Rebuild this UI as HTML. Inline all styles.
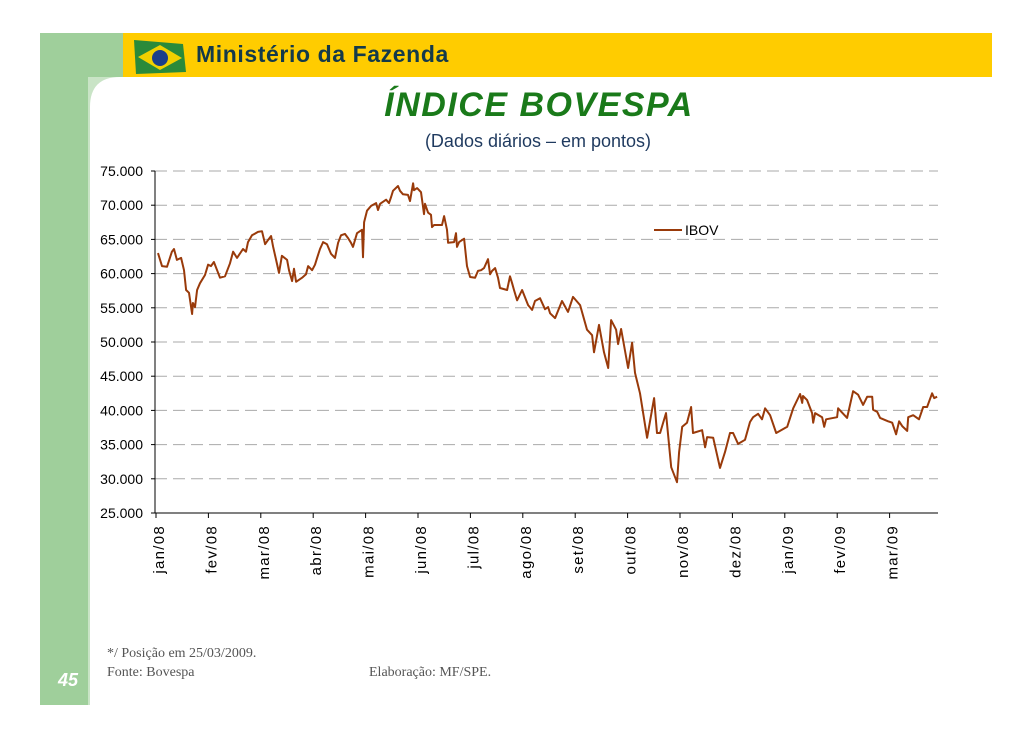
<!DOCTYPE html>
<html><head><meta charset="utf-8"><style>
body{margin:0;width:1030px;height:728px;overflow:hidden;background:#fff;font-family:"Liberation Sans",sans-serif;}
</style></head><body>
<svg width="1030" height="728" viewBox="0 0 1030 728" xmlns="http://www.w3.org/2000/svg">
<rect x="40" y="33" width="83" height="44" fill="#9fcf9b"/>
<rect x="40" y="33" width="48" height="672" fill="#9fcf9b"/>
<path d="M88 77 L120 77 Q90 77 90 107 L90 705 L88 705 Z" fill="#c9e4c6"/>
<rect x="123" y="33" width="869" height="44" fill="#ffcc00"/>
<g><path d="M134 40 L183 44 L186 72 L136 74 Z" fill="#2a8a3a"/><path d="M138 57 L160 45 L182 58 L160 70 Z" fill="#f0d000"/><circle cx="160" cy="58" r="8" fill="#1a3f8a"/></g>
<text x="196" y="62" font-size="23" font-weight="bold" fill="#143a4a" letter-spacing="0.6">Ministério da Fazenda</text>
<text x="539" y="116" text-anchor="middle" font-size="34" font-weight="bold" font-style="italic" fill="#1a7a1a" letter-spacing="1.5">ÍNDICE BOVESPA</text>
<text x="538" y="147" text-anchor="middle" font-size="18" fill="#1f3a5f">(Dados diários – em pontos)</text>
<text x="58" y="686" font-size="18" font-weight="bold" font-style="italic" fill="#fff">45</text>
<g font-family="Liberation Serif,serif" font-size="14" fill="#555">
<text x="107" y="657">*/ Posição em 25/03/2009.</text>
<text x="107" y="676">Fonte: Bovespa</text>
<text x="369" y="676">Elaboração: MF/SPE.</text>
</g>
<g id="chart"></g>
<line x1="654" y1="230" x2="682" y2="230" stroke="#993a0a" stroke-width="2"/>
<text x="685" y="235" font-size="14" fill="#000">IBOV</text>
</svg>
<script>
const yTicks=[75000,70000,65000,60000,55000,50000,45000,40000,35000,30000,25000];
const months=["jan/08","fev/08","mar/08","abr/08","mai/08","jun/08","jul/08","ago/08","set/08","out/08","nov/08","dez/08","jan/09","fev/09","mar/09"];
const days=[0,2.3,5.2,8.1,9.3,11,13.4,15.1,16.3,18,19.8,20.3,21.5,22.7,24.4,27.3,29.1,30.8,32.5,36,38.9,41.8,43.6,45.9,49.4,51.1,52.3,54.6,58.1,60.4,62.2,63.9,65.7,66.8,68.6,70.3,72,75,76.1,77.9,79,80.2,83.7,86,87.2,89.5,91.2,92.4,94.1,95.9,98.2,100.5,102.8,104.6,106.3,108.6,110.4,112.1,113.3,115.6,118.5,119.1,119.7,121.4,123.8,126.7,127.8,129,132.5,134.2,135.4,136.5,139.4,140.6,142.3,145.2,146.4,148.2,148.7,150.5,152.8,154,154.5,155.1,156.9,158.6,159.2,160.4,165,166.2,167.9,168.5,172,173.1,173.7,174.9,177.8,179.5,181.3,184.2,185.9,187.7,189.4,191.7,192.9,194.1,195.8,197.5,198.7,202.8,204.5,205.7,206.8,208.6,211.5,215,217.3,219,221.9,224.8,226.6,227.8,230.7,234.7,238.2,241.1,245.2,249.2,252.2,253.3,256.2,259.1,261.5,263.2,266.1,267.3,269,273.1,275.4,277.1,280,284.1,288.2,289.9,291.7,295.1,298.1,301.5,302.7,304.5,307.3,309.7,310.8,316.1,317.8,319,322.5,326.5,329.4,332.3,334.1,337,341,343.9,345.7,348.6,350.9,352.7,355.6,359.1,365.5,369,373,374.2,374.7,377.1,380,380.6,381.7,385.8,387,388.1,394.5,395.1,400.3,403.8,406.7,409.6,412,414.9,415.4,417.8,419.5,424.1,426.5,428.8,430.5,432.3,435.2,435.8,438.7,442.1,444.5,446.8,449.7,450.9,452.6];
const ibov=[63.0,61.1,61.0,63.2,63.6,62.0,62.3,60.5,57.6,57.2,54.1,55.7,55.1,57.6,58.6,59.8,61.3,61.1,61.7,59.4,59.6,61.5,63.2,62.3,63.6,63.2,64.6,65.6,66.1,66.2,64.3,64.9,65.5,64.0,62.0,60.1,62.6,62.0,60.5,58.9,60.7,58.8,59.4,59.9,61.1,60.5,61.3,62.3,63.6,64.6,64.3,62.9,62.3,64.5,65.6,65.8,65.2,64.5,63.9,65.9,66.4,62.4,67.5,69.2,69.9,70.3,69.3,70.2,70.8,70.3,71.2,72.1,72.8,72.1,71.6,71.5,70.6,73.2,72.2,72.5,71.9,69.7,68.7,70.2,68.9,68.6,66.8,67.1,67.1,68.4,66.4,64.5,64.6,65.9,63.9,64.6,65.1,61.1,59.5,59.4,60.4,60.5,60.8,62.1,59.9,60.4,60.8,59.4,57.9,57.6,59.6,58.6,57.6,56.1,57.6,55.4,54.7,56.0,56.4,54.8,55.1,54.2,53.5,56.0,54.4,56.6,55.4,51.8,51.0,48.5,52.5,48.5,46.2,53.2,51.8,49.7,51.9,46.2,49.9,45.5,42.5,36.0,41.8,36.7,36.7,39.6,31.7,29.5,33.9,37.6,38.2,40.5,36.7,37.1,34.6,36.1,36.0,31.6,33.9,36.7,36.7,35.1,35.7,38.3,39.0,39.5,38.7,40.3,39.3,36.7,37.6,40.3,42.4,41.1,42.1,41.5,39.6,38.2,39.6,39.0,37.6,38.7,39.0,40.3,38.9,42.8,42.3,40.8,42.0,42.0,40.1,39.8,38.9,38.4,38.2,36.5,38.4,37.7,37.0,39.0,39.3,38.7,40.5,40.5,42.5,41.8,42.0];
const NS="http://www.w3.org/2000/svg",g=document.getElementById('chart');
const L=155,R=938,T=171,B=513;
const y=v=>T+(75000-v)/50000*(B-T);
const x=d=>158+d/30.44*52.4;
function mk(t,a){const e=document.createElementNS(NS,t);for(const k in a)e.setAttribute(k,a[k]);g.appendChild(e);return e;}
yTicks.forEach(v=>{
 if(v>25000){const l=mk('line',{x1:L,x2:R,y1:y(v),y2:y(v),stroke:'#aaa','stroke-dasharray':'12,6'});
 
 }
 const tk=mk('line',{x1:L-4,x2:L,y1:y(v),y2:y(v),stroke:'#000'});
 
 
 const t=mk('text',{x:143,y:y(v)+5,'text-anchor':'end','font-size':14,fill:'#000'});
 t.textContent=v.toLocaleString('de-DE');
 
 
});
const ax=mk('path',{d:`M${L} ${T} L${L} ${B} L${R} ${B}`,stroke:'#000',fill:'none'});


months.forEach((m,i)=>{
 const tx=156+i*52.4;
 const tk=mk('line',{x1:tx,x2:tx,y1:B,y2:B+5,stroke:'#000'});
 
 
 const t=mk('text',{transform:`translate(${tx+8},525) rotate(-90)`,'text-anchor':'end','font-size':15,'letter-spacing':1.3,fill:'#000'});
 t.textContent=m;
 
 
});
const p=mk('polyline',{points:days.map((d,i)=>x(d).toFixed(1)+','+y(ibov[i]*1000).toFixed(1)).join(' '),fill:'none',stroke:'#993a0a','stroke-width':2,'stroke-linejoin':'round'});


</script>
</body></html>
